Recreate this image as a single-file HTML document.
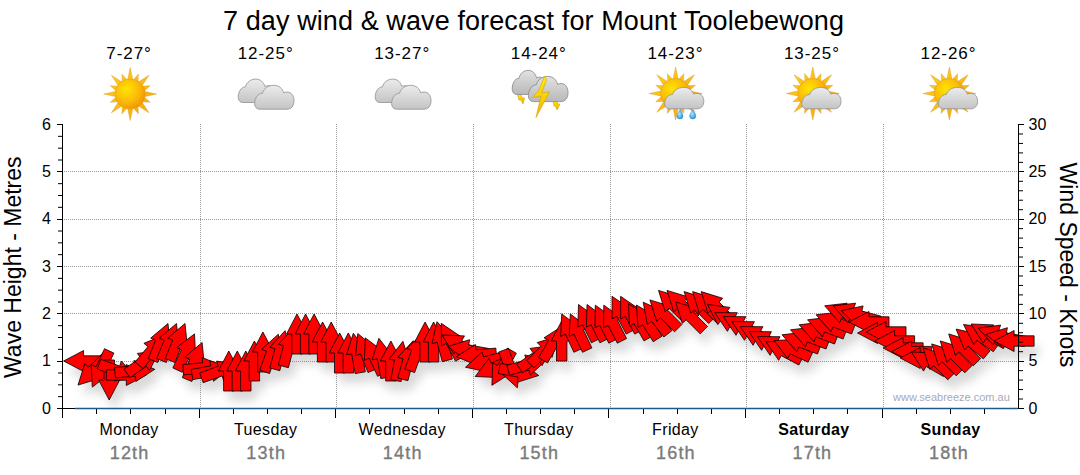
<!DOCTYPE html><html><head><meta charset="utf-8"><style>html,body{margin:0;padding:0;background:#fff;width:1080px;height:475px;overflow:hidden}svg{display:block}</style></head><body>
<svg width="1080" height="475" viewBox="0 0 1080 475" style="font-family:'Liberation Sans', sans-serif">
<defs><filter id="sh" x="-10%" y="-30%" width="120%" height="180%"><feGaussianBlur stdDeviation="5"/></filter></defs>
<text x="223" y="30" font-size="27" textLength="621" lengthAdjust="spacing" fill="#000">7 day wind &amp; wave forecast for Mount Toolebewong</text>
<text x="129.1" y="58.7" font-size="17" letter-spacing="0.95" text-anchor="middle" fill="#000">7-27°</text>
<text x="129.1" y="434.7" font-size="16" letter-spacing="0.35" text-anchor="middle" fill="#000">Monday</text>
<text x="129.6" y="458.7" font-size="18" letter-spacing="1.2" text-anchor="middle" fill="#7a7a7a" stroke="#7a7a7a" stroke-width="0.35">12th</text>
<text x="265.7" y="58.7" font-size="17" letter-spacing="0.95" text-anchor="middle" fill="#000">12-25°</text>
<text x="265.7" y="434.7" font-size="16" letter-spacing="0.35" text-anchor="middle" fill="#000">Tuesday</text>
<text x="266.2" y="458.7" font-size="18" letter-spacing="1.2" text-anchor="middle" fill="#7a7a7a" stroke="#7a7a7a" stroke-width="0.35">13th</text>
<text x="402.2" y="58.7" font-size="17" letter-spacing="0.95" text-anchor="middle" fill="#000">13-27°</text>
<text x="402.2" y="434.7" font-size="16" letter-spacing="0.35" text-anchor="middle" fill="#000">Wednesday</text>
<text x="402.7" y="458.7" font-size="18" letter-spacing="1.2" text-anchor="middle" fill="#7a7a7a" stroke="#7a7a7a" stroke-width="0.35">14th</text>
<text x="538.8" y="58.7" font-size="17" letter-spacing="0.95" text-anchor="middle" fill="#000">14-24°</text>
<text x="538.8" y="434.7" font-size="16" letter-spacing="0.35" text-anchor="middle" fill="#000">Thursday</text>
<text x="539.3" y="458.7" font-size="18" letter-spacing="1.2" text-anchor="middle" fill="#7a7a7a" stroke="#7a7a7a" stroke-width="0.35">15th</text>
<text x="675.4" y="58.7" font-size="17" letter-spacing="0.95" text-anchor="middle" fill="#000">14-23°</text>
<text x="675.4" y="434.7" font-size="16" letter-spacing="0.35" text-anchor="middle" fill="#000">Friday</text>
<text x="675.9" y="458.7" font-size="18" letter-spacing="1.2" text-anchor="middle" fill="#7a7a7a" stroke="#7a7a7a" stroke-width="0.35">16th</text>
<text x="811.9" y="58.7" font-size="17" letter-spacing="0.95" text-anchor="middle" fill="#000">13-25°</text>
<text x="813.9" y="434.7" font-size="16" font-weight="bold" letter-spacing="0.35" text-anchor="middle" fill="#000">Saturday</text>
<text x="812.4" y="458.7" font-size="18" letter-spacing="1.2" text-anchor="middle" fill="#7a7a7a" stroke="#7a7a7a" stroke-width="0.35">17th</text>
<text x="948.5" y="58.7" font-size="17" letter-spacing="0.95" text-anchor="middle" fill="#000">12-26°</text>
<text x="950.5" y="434.7" font-size="16" font-weight="bold" letter-spacing="0.35" text-anchor="middle" fill="#000">Sunday</text>
<text x="949.0" y="458.7" font-size="18" letter-spacing="1.2" text-anchor="middle" fill="#7a7a7a" stroke="#7a7a7a" stroke-width="0.35">18th</text>
<path d="M62 361.5H1018 M62 313.5H1018 M62 266.5H1018 M62 219.5H1018 M62 171.5H1018 M200.5 124V408 M336.5 124V408 M473.5 124V408 M610.5 124V408 M746.5 124V408 M883.5 124V408" stroke="#9a9a9a" stroke-width="1" stroke-dasharray="1 1" fill="none"/>
<text x="893" y="400.6" font-size="11" fill="#a8a8b8">www.seabreeze.com.au</text>
<g filter="url(#sh)" opacity="0.3"><path transform="translate(5 10)" fill="#808080" d="M63.6 361.0 L83.6 350.5 L83.6 355.8 L103.6 355.8 L103.6 366.2 L83.6 366.2 L83.6 371.5Z M78.0 385.1 L84.8 363.6 L88.5 367.3 L102.6 353.2 L110.0 360.5 L95.9 374.7 L99.6 378.4Z M92.3 387.1 L91.2 364.6 L96.0 366.8 L104.5 348.7 L113.9 353.1 L105.4 371.2 L110.2 373.4Z M109.2 400.0 L98.7 380.0 L104.0 380.0 L104.0 360.0 L114.4 360.0 L114.4 380.0 L119.7 380.0Z M136.6 377.8 L114.2 380.9 L116.0 375.9 L97.2 369.0 L100.8 359.3 L119.6 366.1 L121.4 361.1Z M146.3 375.0 L126.3 385.5 L126.3 380.2 L106.3 380.2 L106.3 369.8 L126.3 369.8 L126.3 364.5Z M154.8 369.3 L135.8 381.5 L135.3 376.2 L115.4 377.9 L114.5 367.6 L134.4 365.8 L133.9 360.5Z M159.8 350.5 L149.4 370.6 L146.4 366.3 L130.0 377.7 L124.0 369.2 L140.4 357.7 L137.4 353.4Z M164.8 334.7 L160.0 356.7 L155.9 353.3 L143.1 368.7 L135.1 362.0 L147.9 346.7 L143.9 343.3Z M168.0 323.5 L170.2 345.9 L165.3 343.9 L157.8 362.5 L148.2 358.6 L155.6 340.1 L150.7 338.1Z M176.5 323.5 L178.7 345.9 L173.8 343.9 L166.3 362.5 L156.7 358.6 L164.2 340.1 L159.3 338.1Z M185.0 323.5 L187.3 345.9 L182.4 343.9 L174.9 362.5 L165.2 358.6 L172.7 340.1 L167.8 338.1Z M194.5 333.9 L195.6 356.4 L190.8 354.2 L182.3 372.3 L172.9 367.9 L181.4 349.8 L176.6 347.6Z M202.1 342.5 L204.3 364.9 L199.4 362.9 L191.9 381.5 L182.3 377.6 L189.8 359.1 L184.9 357.1Z M223.1 366.3 L204.1 378.5 L203.6 373.2 L183.7 374.9 L182.8 364.6 L202.7 362.8 L202.2 357.5Z M231.4 367.5 L213.5 381.3 L212.6 376.1 L192.9 379.6 L191.1 369.4 L210.8 365.9 L209.9 360.7Z M239.0 364.2 L223.8 380.9 L222.0 375.9 L203.2 382.7 L199.6 373.0 L218.4 366.1 L216.6 361.1Z M228.8 351.0 L239.3 371.0 L234.0 371.0 L234.0 391.0 L223.6 391.0 L223.6 371.0 L218.3 371.0Z M237.3 351.0 L247.8 371.0 L242.5 371.0 L242.5 391.0 L232.1 391.0 L232.1 371.0 L226.8 371.0Z M245.8 351.0 L256.3 371.0 L251.0 371.0 L251.0 391.0 L240.6 391.0 L240.6 371.0 L235.3 371.0Z M254.4 341.0 L264.9 361.0 L259.6 361.0 L259.6 381.0 L249.2 381.0 L249.2 361.0 L243.9 361.0Z M262.9 332.0 L273.4 352.0 L268.1 352.0 L268.1 372.0 L257.7 372.0 L257.7 352.0 L252.4 352.0Z M278.3 334.2 L281.3 356.6 L276.3 354.8 L269.5 373.6 L259.7 370.0 L266.5 351.2 L261.6 349.4Z M285.1 330.7 L290.1 352.7 L285.0 351.3 L279.8 370.7 L269.8 368.0 L274.9 348.7 L269.8 347.3Z M293.7 327.7 L298.6 349.7 L293.5 348.3 L288.4 367.7 L278.3 365.0 L283.5 345.7 L278.4 344.3Z M297.0 314.0 L307.5 334.0 L302.2 334.0 L302.2 354.0 L291.8 354.0 L291.8 334.0 L286.5 334.0Z M305.6 314.0 L316.1 334.0 L310.8 334.0 L310.8 354.0 L300.4 354.0 L300.4 334.0 L295.1 334.0Z M314.1 314.0 L324.6 334.0 L319.3 334.0 L319.3 354.0 L308.9 354.0 L308.9 334.0 L303.6 334.0Z M322.6 322.0 L333.1 342.0 L327.8 342.0 L327.8 362.0 L317.4 362.0 L317.4 342.0 L312.1 342.0Z M331.2 322.0 L341.7 342.0 L336.4 342.0 L336.4 362.0 L326.0 362.0 L326.0 342.0 L320.7 342.0Z M339.7 333.0 L350.2 353.0 L344.9 353.0 L344.9 373.0 L334.5 373.0 L334.5 353.0 L329.2 353.0Z M348.3 333.0 L358.8 353.0 L353.5 353.0 L353.5 373.0 L343.1 373.0 L343.1 353.0 L337.8 353.0Z M353.3 333.3 L367.1 351.2 L361.9 352.1 L365.4 371.8 L355.1 373.6 L351.7 353.9 L346.5 354.8Z M357.8 333.5 L375.1 348.1 L370.1 350.1 L377.6 368.6 L368.0 372.5 L360.5 353.9 L355.6 355.9Z M365.4 337.9 L383.4 351.6 L378.6 353.8 L387.0 371.9 L377.6 376.3 L369.2 358.2 L364.3 360.4Z M378.9 338.3 L392.7 356.2 L387.5 357.1 L391.0 376.8 L380.8 378.6 L377.3 358.9 L372.1 359.8Z M390.9 341.0 L401.4 361.0 L396.1 361.0 L396.1 381.0 L385.7 381.0 L385.7 361.0 L380.4 361.0Z M402.9 341.3 L409.8 362.8 L404.6 361.9 L401.1 381.6 L390.9 379.8 L394.4 360.1 L389.1 359.2Z M413.2 340.7 L418.2 362.7 L413.0 361.3 L407.9 380.7 L397.8 378.0 L403.0 358.7 L397.9 357.3Z M423.4 333.2 L426.4 355.6 L421.4 353.8 L414.6 372.6 L404.8 369.0 L411.7 350.2 L406.7 348.4Z M425.1 322.0 L435.6 342.0 L430.3 342.0 L430.3 362.0 L419.9 362.0 L419.9 342.0 L414.6 342.0Z M433.6 322.0 L444.1 342.0 L438.8 342.0 L438.8 362.0 L428.4 362.0 L428.4 342.0 L423.1 342.0Z M437.0 321.7 L452.3 338.3 L447.2 339.7 L452.4 359.0 L442.3 361.7 L437.1 342.3 L432.0 343.7Z M441.3 323.3 L460.0 336.1 L455.3 338.6 L464.7 356.2 L455.5 361.1 L446.1 343.4 L441.4 345.9Z M441.9 335.0 L464.5 335.9 L461.8 340.5 L479.1 350.5 L473.9 359.5 L456.6 349.5 L454.0 354.1Z M448.1 346.5 L469.6 339.7 L468.7 344.9 L488.4 348.4 L486.6 358.6 L466.9 355.1 L465.9 360.3Z M456.4 356.7 L475.4 344.5 L475.8 349.8 L495.8 348.1 L496.7 358.4 L476.7 360.2 L477.2 365.5Z M465.5 367.2 L482.1 351.9 L483.5 357.0 L502.8 351.8 L505.5 361.8 L486.2 367.0 L487.5 372.1Z M475.2 376.5 L488.9 358.5 L491.2 363.3 L509.3 354.8 L513.7 364.3 L495.6 372.7 L497.8 377.5Z M491.9 385.3 L492.8 362.8 L497.4 365.4 L507.4 348.1 L516.4 353.3 L506.4 370.6 L511.0 373.2Z M517.3 387.8 L500.6 372.6 L505.6 370.8 L498.7 352.0 L508.5 348.4 L515.3 367.2 L520.3 365.4Z M538.7 375.5 L517.2 382.3 L518.1 377.1 L498.4 373.6 L500.2 363.4 L519.9 366.9 L520.8 361.7Z M546.8 359.8 L530.2 375.1 L528.9 370.0 L509.5 375.2 L506.8 365.2 L526.2 360.0 L524.8 354.9Z M552.4 345.5 L542.1 365.6 L539.0 361.3 L522.6 372.7 L516.7 364.2 L533.1 352.7 L530.0 348.4Z M558.7 335.9 L552.0 357.4 L548.3 353.7 L534.1 367.8 L526.8 360.5 L540.9 346.3 L537.2 342.6Z M563.1 325.7 L562.2 348.2 L557.6 345.6 L547.6 362.9 L538.6 357.7 L548.6 340.4 L544.0 337.8Z M561.7 321.0 L572.2 341.0 L566.9 341.0 L566.9 361.0 L556.5 361.0 L556.5 341.0 L551.2 341.0Z M561.7 313.9 L579.7 327.6 L574.9 329.8 L583.4 347.9 L573.9 352.3 L565.5 334.2 L560.7 336.4Z M570.3 313.9 L588.2 327.6 L583.4 329.8 L591.9 347.9 L582.5 352.3 L574.0 334.2 L569.2 336.4Z M578.5 304.5 L596.7 317.9 L591.9 320.2 L600.7 338.2 L591.4 342.8 L582.6 324.8 L577.8 327.1Z M587.0 304.5 L605.2 317.9 L600.5 320.2 L609.2 338.2 L599.9 342.8 L591.1 324.8 L586.4 327.1Z M595.3 305.2 L613.7 318.2 L609.0 320.6 L618.0 338.5 L608.8 343.2 L599.7 325.4 L595.0 327.8Z M603.8 305.2 L622.2 318.2 L617.5 320.6 L626.6 338.5 L617.3 343.2 L608.2 325.4 L603.5 327.8Z M612.0 296.3 L630.7 309.1 L626.0 311.6 L635.4 329.2 L626.2 334.1 L616.8 316.4 L612.1 318.9Z M620.6 296.3 L639.2 309.1 L634.5 311.6 L643.9 329.2 L634.7 334.1 L625.4 316.4 L620.7 318.9Z M628.5 303.7 L647.6 315.8 L643.0 318.4 L653.0 335.7 L644.0 340.9 L634.0 323.6 L629.4 326.2Z M636.4 305.0 L655.9 316.4 L651.4 319.2 L662.0 336.2 L653.2 341.7 L642.6 324.8 L638.1 327.6Z M643.2 302.2 L663.8 311.5 L659.6 314.8 L672.0 330.6 L663.8 337.0 L651.5 321.2 L647.3 324.5Z M649.9 299.9 L671.5 306.6 L667.8 310.3 L681.9 324.5 L674.6 331.8 L660.4 317.7 L656.7 321.4Z M658.5 290.4 L680.0 297.1 L676.3 300.8 L690.4 315.0 L683.1 322.3 L668.9 308.2 L665.2 311.9Z M667.0 290.4 L688.6 297.1 L684.8 300.8 L699.0 315.0 L691.6 322.3 L677.5 308.2 L673.7 311.9Z M675.6 301.9 L697.1 308.6 L693.4 312.3 L707.5 326.5 L700.2 333.8 L686.0 319.7 L682.3 323.4Z M684.1 291.6 L705.7 298.3 L701.9 302.0 L716.1 316.2 L708.7 323.5 L694.6 309.4 L690.8 313.1Z M692.6 291.6 L714.2 298.3 L710.4 302.0 L724.6 316.2 L717.2 323.5 L703.1 309.4 L699.3 313.1Z M701.2 291.6 L722.7 298.3 L719.0 302.0 L733.1 316.2 L725.8 323.5 L711.6 309.4 L707.9 313.1Z M707.5 304.5 L729.9 307.4 L726.8 311.7 L743.2 323.2 L737.2 331.7 L720.9 320.3 L717.8 324.6Z M714.7 312.6 L737.3 312.7 L734.8 317.4 L752.5 326.8 L747.6 336.0 L729.9 326.6 L727.4 331.3Z M723.3 316.6 L745.8 316.7 L743.4 321.4 L761.0 330.8 L756.1 340.0 L738.5 330.6 L736.0 335.3Z M731.8 321.6 L754.4 321.7 L751.9 326.4 L769.5 335.8 L764.7 345.0 L747.0 335.6 L744.5 340.3Z M740.3 326.6 L762.9 326.7 L760.4 331.4 L778.1 340.8 L773.2 350.0 L755.5 340.6 L753.1 345.3Z M748.9 331.6 L771.4 331.7 L769.0 336.4 L786.6 345.8 L781.7 355.0 L764.1 345.6 L761.6 350.3Z M757.4 336.6 L780.0 336.7 L777.5 341.4 L795.2 350.8 L790.3 360.0 L772.6 350.6 L770.1 355.3Z M765.9 341.6 L788.5 341.7 L786.0 346.4 L803.7 355.8 L798.8 365.0 L781.2 355.6 L778.7 360.3Z M774.0 340.5 L796.6 339.5 L794.3 344.3 L812.5 352.7 L808.1 362.2 L789.9 353.7 L787.7 358.5Z M782.0 334.8 L804.4 332.2 L802.5 337.1 L821.2 344.3 L817.5 354.0 L798.8 346.9 L796.9 351.8Z M790.5 329.8 L813.0 327.2 L811.1 332.1 L829.7 339.3 L826.0 349.0 L807.3 341.9 L805.4 346.8Z M799.1 324.8 L821.5 322.2 L819.6 327.1 L838.3 334.3 L834.5 344.0 L815.9 336.9 L814.0 341.8Z M807.6 319.8 L830.0 317.2 L828.1 322.1 L846.8 329.3 L843.1 339.0 L824.4 331.9 L822.5 336.8Z M816.1 314.8 L838.6 312.2 L836.7 317.1 L855.3 324.3 L851.6 334.0 L832.9 326.9 L831.0 331.8Z M824.7 305.8 L847.1 303.2 L845.2 308.1 L863.9 315.3 L860.2 325.0 L841.5 317.9 L839.6 322.8Z M833.2 305.8 L855.6 303.2 L853.7 308.1 L872.4 315.3 L868.7 325.0 L850.0 317.9 L848.1 322.8Z M841.1 310.8 L863.1 305.9 L861.8 311.0 L881.1 316.2 L878.4 326.2 L859.1 321.0 L857.7 326.1Z M849.0 322.0 L869.0 311.5 L869.0 316.8 L889.0 316.8 L889.0 327.2 L869.0 327.2 L869.0 332.5Z M857.5 333.0 L877.5 322.5 L877.5 327.8 L897.5 327.8 L897.5 338.2 L877.5 338.2 L877.5 343.5Z M866.0 332.0 L886.0 321.5 L886.0 326.8 L906.0 326.8 L906.0 337.2 L886.0 337.2 L886.0 342.5Z M874.6 341.0 L894.6 330.5 L894.6 335.8 L914.6 335.8 L914.6 346.2 L894.6 346.2 L894.6 351.5Z M883.1 348.0 L903.1 337.5 L903.1 342.8 L923.1 342.8 L923.1 353.2 L903.1 353.2 L903.1 358.5Z M891.6 351.6 L911.6 341.1 L911.6 346.4 L931.6 346.4 L931.6 356.8 L911.6 356.8 L911.6 362.1Z M900.2 358.0 L920.2 347.5 L920.2 352.8 L940.2 352.8 L940.2 363.2 L920.2 363.2 L920.2 368.5Z M911.4 352.0 L934.0 352.9 L931.3 357.5 L948.6 367.5 L943.4 376.5 L926.1 366.5 L923.5 371.1Z M923.1 347.9 L944.7 354.6 L940.9 358.3 L955.1 372.5 L947.7 379.8 L933.6 365.7 L929.8 369.4Z M931.6 343.9 L953.2 350.6 L949.5 354.3 L963.6 368.5 L956.2 375.8 L942.1 361.7 L938.4 365.4Z M940.2 340.9 L961.7 347.6 L958.0 351.3 L972.1 365.5 L964.8 372.8 L950.6 358.7 L946.9 362.4Z M948.7 333.9 L970.3 340.6 L966.5 344.3 L980.7 358.5 L973.3 365.8 L959.2 351.7 L955.4 355.4Z M956.1 329.1 L978.1 334.0 L974.7 338.0 L990.0 350.9 L983.4 358.8 L968.0 346.0 L964.6 350.0Z M963.5 324.5 L985.9 327.4 L982.9 331.7 L999.3 343.2 L993.3 351.7 L976.9 340.3 L973.9 344.6Z M971.1 324.0 L993.7 324.9 L991.1 329.5 L1008.4 339.5 L1003.2 348.5 L985.9 338.5 L983.2 343.1Z M978.2 328.2 L1000.6 325.1 L998.8 330.1 L1017.6 337.0 L1014.0 346.7 L995.2 339.9 L993.4 344.9Z M985.8 334.5 L1007.4 327.7 L1006.4 332.9 L1026.1 336.4 L1024.3 346.6 L1004.6 343.1 L1003.7 348.3Z M994.1 341.0 L1014.1 330.5 L1014.1 335.8 L1034.1 335.8 L1034.1 346.2 L1014.1 346.2 L1014.1 351.5Z"/></g>
<g fill="#ff0000" stroke="#000" stroke-width="0.8" stroke-linejoin="miter"><path d="M63.6 361.0 L83.6 350.5 L83.6 355.8 L103.6 355.8 L103.6 366.2 L83.6 366.2 L83.6 371.5Z"/><path d="M78.0 385.1 L84.8 363.6 L88.5 367.3 L102.6 353.2 L110.0 360.5 L95.9 374.7 L99.6 378.4Z"/><path d="M92.3 387.1 L91.2 364.6 L96.0 366.8 L104.5 348.7 L113.9 353.1 L105.4 371.2 L110.2 373.4Z"/><path d="M109.2 400.0 L98.7 380.0 L104.0 380.0 L104.0 360.0 L114.4 360.0 L114.4 380.0 L119.7 380.0Z"/><path d="M136.6 377.8 L114.2 380.9 L116.0 375.9 L97.2 369.0 L100.8 359.3 L119.6 366.1 L121.4 361.1Z"/><path d="M146.3 375.0 L126.3 385.5 L126.3 380.2 L106.3 380.2 L106.3 369.8 L126.3 369.8 L126.3 364.5Z"/><path d="M154.8 369.3 L135.8 381.5 L135.3 376.2 L115.4 377.9 L114.5 367.6 L134.4 365.8 L133.9 360.5Z"/><path d="M159.8 350.5 L149.4 370.6 L146.4 366.3 L130.0 377.7 L124.0 369.2 L140.4 357.7 L137.4 353.4Z"/><path d="M164.8 334.7 L160.0 356.7 L155.9 353.3 L143.1 368.7 L135.1 362.0 L147.9 346.7 L143.9 343.3Z"/><path d="M168.0 323.5 L170.2 345.9 L165.3 343.9 L157.8 362.5 L148.2 358.6 L155.6 340.1 L150.7 338.1Z"/><path d="M176.5 323.5 L178.7 345.9 L173.8 343.9 L166.3 362.5 L156.7 358.6 L164.2 340.1 L159.3 338.1Z"/><path d="M185.0 323.5 L187.3 345.9 L182.4 343.9 L174.9 362.5 L165.2 358.6 L172.7 340.1 L167.8 338.1Z"/><path d="M194.5 333.9 L195.6 356.4 L190.8 354.2 L182.3 372.3 L172.9 367.9 L181.4 349.8 L176.6 347.6Z"/><path d="M202.1 342.5 L204.3 364.9 L199.4 362.9 L191.9 381.5 L182.3 377.6 L189.8 359.1 L184.9 357.1Z"/><path d="M223.1 366.3 L204.1 378.5 L203.6 373.2 L183.7 374.9 L182.8 364.6 L202.7 362.8 L202.2 357.5Z"/><path d="M231.4 367.5 L213.5 381.3 L212.6 376.1 L192.9 379.6 L191.1 369.4 L210.8 365.9 L209.9 360.7Z"/><path d="M239.0 364.2 L223.8 380.9 L222.0 375.9 L203.2 382.7 L199.6 373.0 L218.4 366.1 L216.6 361.1Z"/><path d="M228.8 351.0 L239.3 371.0 L234.0 371.0 L234.0 391.0 L223.6 391.0 L223.6 371.0 L218.3 371.0Z"/><path d="M237.3 351.0 L247.8 371.0 L242.5 371.0 L242.5 391.0 L232.1 391.0 L232.1 371.0 L226.8 371.0Z"/><path d="M245.8 351.0 L256.3 371.0 L251.0 371.0 L251.0 391.0 L240.6 391.0 L240.6 371.0 L235.3 371.0Z"/><path d="M254.4 341.0 L264.9 361.0 L259.6 361.0 L259.6 381.0 L249.2 381.0 L249.2 361.0 L243.9 361.0Z"/><path d="M262.9 332.0 L273.4 352.0 L268.1 352.0 L268.1 372.0 L257.7 372.0 L257.7 352.0 L252.4 352.0Z"/><path d="M278.3 334.2 L281.3 356.6 L276.3 354.8 L269.5 373.6 L259.7 370.0 L266.5 351.2 L261.6 349.4Z"/><path d="M285.1 330.7 L290.1 352.7 L285.0 351.3 L279.8 370.7 L269.8 368.0 L274.9 348.7 L269.8 347.3Z"/><path d="M293.7 327.7 L298.6 349.7 L293.5 348.3 L288.4 367.7 L278.3 365.0 L283.5 345.7 L278.4 344.3Z"/><path d="M297.0 314.0 L307.5 334.0 L302.2 334.0 L302.2 354.0 L291.8 354.0 L291.8 334.0 L286.5 334.0Z"/><path d="M305.6 314.0 L316.1 334.0 L310.8 334.0 L310.8 354.0 L300.4 354.0 L300.4 334.0 L295.1 334.0Z"/><path d="M314.1 314.0 L324.6 334.0 L319.3 334.0 L319.3 354.0 L308.9 354.0 L308.9 334.0 L303.6 334.0Z"/><path d="M322.6 322.0 L333.1 342.0 L327.8 342.0 L327.8 362.0 L317.4 362.0 L317.4 342.0 L312.1 342.0Z"/><path d="M331.2 322.0 L341.7 342.0 L336.4 342.0 L336.4 362.0 L326.0 362.0 L326.0 342.0 L320.7 342.0Z"/><path d="M339.7 333.0 L350.2 353.0 L344.9 353.0 L344.9 373.0 L334.5 373.0 L334.5 353.0 L329.2 353.0Z"/><path d="M348.3 333.0 L358.8 353.0 L353.5 353.0 L353.5 373.0 L343.1 373.0 L343.1 353.0 L337.8 353.0Z"/><path d="M353.3 333.3 L367.1 351.2 L361.9 352.1 L365.4 371.8 L355.1 373.6 L351.7 353.9 L346.5 354.8Z"/><path d="M357.8 333.5 L375.1 348.1 L370.1 350.1 L377.6 368.6 L368.0 372.5 L360.5 353.9 L355.6 355.9Z"/><path d="M365.4 337.9 L383.4 351.6 L378.6 353.8 L387.0 371.9 L377.6 376.3 L369.2 358.2 L364.3 360.4Z"/><path d="M378.9 338.3 L392.7 356.2 L387.5 357.1 L391.0 376.8 L380.8 378.6 L377.3 358.9 L372.1 359.8Z"/><path d="M390.9 341.0 L401.4 361.0 L396.1 361.0 L396.1 381.0 L385.7 381.0 L385.7 361.0 L380.4 361.0Z"/><path d="M402.9 341.3 L409.8 362.8 L404.6 361.9 L401.1 381.6 L390.9 379.8 L394.4 360.1 L389.1 359.2Z"/><path d="M413.2 340.7 L418.2 362.7 L413.0 361.3 L407.9 380.7 L397.8 378.0 L403.0 358.7 L397.9 357.3Z"/><path d="M423.4 333.2 L426.4 355.6 L421.4 353.8 L414.6 372.6 L404.8 369.0 L411.7 350.2 L406.7 348.4Z"/><path d="M425.1 322.0 L435.6 342.0 L430.3 342.0 L430.3 362.0 L419.9 362.0 L419.9 342.0 L414.6 342.0Z"/><path d="M433.6 322.0 L444.1 342.0 L438.8 342.0 L438.8 362.0 L428.4 362.0 L428.4 342.0 L423.1 342.0Z"/><path d="M437.0 321.7 L452.3 338.3 L447.2 339.7 L452.4 359.0 L442.3 361.7 L437.1 342.3 L432.0 343.7Z"/><path d="M441.3 323.3 L460.0 336.1 L455.3 338.6 L464.7 356.2 L455.5 361.1 L446.1 343.4 L441.4 345.9Z"/><path d="M441.9 335.0 L464.5 335.9 L461.8 340.5 L479.1 350.5 L473.9 359.5 L456.6 349.5 L454.0 354.1Z"/><path d="M448.1 346.5 L469.6 339.7 L468.7 344.9 L488.4 348.4 L486.6 358.6 L466.9 355.1 L465.9 360.3Z"/><path d="M456.4 356.7 L475.4 344.5 L475.8 349.8 L495.8 348.1 L496.7 358.4 L476.7 360.2 L477.2 365.5Z"/><path d="M465.5 367.2 L482.1 351.9 L483.5 357.0 L502.8 351.8 L505.5 361.8 L486.2 367.0 L487.5 372.1Z"/><path d="M475.2 376.5 L488.9 358.5 L491.2 363.3 L509.3 354.8 L513.7 364.3 L495.6 372.7 L497.8 377.5Z"/><path d="M491.9 385.3 L492.8 362.8 L497.4 365.4 L507.4 348.1 L516.4 353.3 L506.4 370.6 L511.0 373.2Z"/><path d="M517.3 387.8 L500.6 372.6 L505.6 370.8 L498.7 352.0 L508.5 348.4 L515.3 367.2 L520.3 365.4Z"/><path d="M538.7 375.5 L517.2 382.3 L518.1 377.1 L498.4 373.6 L500.2 363.4 L519.9 366.9 L520.8 361.7Z"/><path d="M546.8 359.8 L530.2 375.1 L528.9 370.0 L509.5 375.2 L506.8 365.2 L526.2 360.0 L524.8 354.9Z"/><path d="M552.4 345.5 L542.1 365.6 L539.0 361.3 L522.6 372.7 L516.7 364.2 L533.1 352.7 L530.0 348.4Z"/><path d="M558.7 335.9 L552.0 357.4 L548.3 353.7 L534.1 367.8 L526.8 360.5 L540.9 346.3 L537.2 342.6Z"/><path d="M563.1 325.7 L562.2 348.2 L557.6 345.6 L547.6 362.9 L538.6 357.7 L548.6 340.4 L544.0 337.8Z"/><path d="M561.7 321.0 L572.2 341.0 L566.9 341.0 L566.9 361.0 L556.5 361.0 L556.5 341.0 L551.2 341.0Z"/><path d="M561.7 313.9 L579.7 327.6 L574.9 329.8 L583.4 347.9 L573.9 352.3 L565.5 334.2 L560.7 336.4Z"/><path d="M570.3 313.9 L588.2 327.6 L583.4 329.8 L591.9 347.9 L582.5 352.3 L574.0 334.2 L569.2 336.4Z"/><path d="M578.5 304.5 L596.7 317.9 L591.9 320.2 L600.7 338.2 L591.4 342.8 L582.6 324.8 L577.8 327.1Z"/><path d="M587.0 304.5 L605.2 317.9 L600.5 320.2 L609.2 338.2 L599.9 342.8 L591.1 324.8 L586.4 327.1Z"/><path d="M595.3 305.2 L613.7 318.2 L609.0 320.6 L618.0 338.5 L608.8 343.2 L599.7 325.4 L595.0 327.8Z"/><path d="M603.8 305.2 L622.2 318.2 L617.5 320.6 L626.6 338.5 L617.3 343.2 L608.2 325.4 L603.5 327.8Z"/><path d="M612.0 296.3 L630.7 309.1 L626.0 311.6 L635.4 329.2 L626.2 334.1 L616.8 316.4 L612.1 318.9Z"/><path d="M620.6 296.3 L639.2 309.1 L634.5 311.6 L643.9 329.2 L634.7 334.1 L625.4 316.4 L620.7 318.9Z"/><path d="M628.5 303.7 L647.6 315.8 L643.0 318.4 L653.0 335.7 L644.0 340.9 L634.0 323.6 L629.4 326.2Z"/><path d="M636.4 305.0 L655.9 316.4 L651.4 319.2 L662.0 336.2 L653.2 341.7 L642.6 324.8 L638.1 327.6Z"/><path d="M643.2 302.2 L663.8 311.5 L659.6 314.8 L672.0 330.6 L663.8 337.0 L651.5 321.2 L647.3 324.5Z"/><path d="M649.9 299.9 L671.5 306.6 L667.8 310.3 L681.9 324.5 L674.6 331.8 L660.4 317.7 L656.7 321.4Z"/><path d="M658.5 290.4 L680.0 297.1 L676.3 300.8 L690.4 315.0 L683.1 322.3 L668.9 308.2 L665.2 311.9Z"/><path d="M667.0 290.4 L688.6 297.1 L684.8 300.8 L699.0 315.0 L691.6 322.3 L677.5 308.2 L673.7 311.9Z"/><path d="M675.6 301.9 L697.1 308.6 L693.4 312.3 L707.5 326.5 L700.2 333.8 L686.0 319.7 L682.3 323.4Z"/><path d="M684.1 291.6 L705.7 298.3 L701.9 302.0 L716.1 316.2 L708.7 323.5 L694.6 309.4 L690.8 313.1Z"/><path d="M692.6 291.6 L714.2 298.3 L710.4 302.0 L724.6 316.2 L717.2 323.5 L703.1 309.4 L699.3 313.1Z"/><path d="M701.2 291.6 L722.7 298.3 L719.0 302.0 L733.1 316.2 L725.8 323.5 L711.6 309.4 L707.9 313.1Z"/><path d="M707.5 304.5 L729.9 307.4 L726.8 311.7 L743.2 323.2 L737.2 331.7 L720.9 320.3 L717.8 324.6Z"/><path d="M714.7 312.6 L737.3 312.7 L734.8 317.4 L752.5 326.8 L747.6 336.0 L729.9 326.6 L727.4 331.3Z"/><path d="M723.3 316.6 L745.8 316.7 L743.4 321.4 L761.0 330.8 L756.1 340.0 L738.5 330.6 L736.0 335.3Z"/><path d="M731.8 321.6 L754.4 321.7 L751.9 326.4 L769.5 335.8 L764.7 345.0 L747.0 335.6 L744.5 340.3Z"/><path d="M740.3 326.6 L762.9 326.7 L760.4 331.4 L778.1 340.8 L773.2 350.0 L755.5 340.6 L753.1 345.3Z"/><path d="M748.9 331.6 L771.4 331.7 L769.0 336.4 L786.6 345.8 L781.7 355.0 L764.1 345.6 L761.6 350.3Z"/><path d="M757.4 336.6 L780.0 336.7 L777.5 341.4 L795.2 350.8 L790.3 360.0 L772.6 350.6 L770.1 355.3Z"/><path d="M765.9 341.6 L788.5 341.7 L786.0 346.4 L803.7 355.8 L798.8 365.0 L781.2 355.6 L778.7 360.3Z"/><path d="M774.0 340.5 L796.6 339.5 L794.3 344.3 L812.5 352.7 L808.1 362.2 L789.9 353.7 L787.7 358.5Z"/><path d="M782.0 334.8 L804.4 332.2 L802.5 337.1 L821.2 344.3 L817.5 354.0 L798.8 346.9 L796.9 351.8Z"/><path d="M790.5 329.8 L813.0 327.2 L811.1 332.1 L829.7 339.3 L826.0 349.0 L807.3 341.9 L805.4 346.8Z"/><path d="M799.1 324.8 L821.5 322.2 L819.6 327.1 L838.3 334.3 L834.5 344.0 L815.9 336.9 L814.0 341.8Z"/><path d="M807.6 319.8 L830.0 317.2 L828.1 322.1 L846.8 329.3 L843.1 339.0 L824.4 331.9 L822.5 336.8Z"/><path d="M816.1 314.8 L838.6 312.2 L836.7 317.1 L855.3 324.3 L851.6 334.0 L832.9 326.9 L831.0 331.8Z"/><path d="M824.7 305.8 L847.1 303.2 L845.2 308.1 L863.9 315.3 L860.2 325.0 L841.5 317.9 L839.6 322.8Z"/><path d="M833.2 305.8 L855.6 303.2 L853.7 308.1 L872.4 315.3 L868.7 325.0 L850.0 317.9 L848.1 322.8Z"/><path d="M841.1 310.8 L863.1 305.9 L861.8 311.0 L881.1 316.2 L878.4 326.2 L859.1 321.0 L857.7 326.1Z"/><path d="M849.0 322.0 L869.0 311.5 L869.0 316.8 L889.0 316.8 L889.0 327.2 L869.0 327.2 L869.0 332.5Z"/><path d="M857.5 333.0 L877.5 322.5 L877.5 327.8 L897.5 327.8 L897.5 338.2 L877.5 338.2 L877.5 343.5Z"/><path d="M866.0 332.0 L886.0 321.5 L886.0 326.8 L906.0 326.8 L906.0 337.2 L886.0 337.2 L886.0 342.5Z"/><path d="M874.6 341.0 L894.6 330.5 L894.6 335.8 L914.6 335.8 L914.6 346.2 L894.6 346.2 L894.6 351.5Z"/><path d="M883.1 348.0 L903.1 337.5 L903.1 342.8 L923.1 342.8 L923.1 353.2 L903.1 353.2 L903.1 358.5Z"/><path d="M891.6 351.6 L911.6 341.1 L911.6 346.4 L931.6 346.4 L931.6 356.8 L911.6 356.8 L911.6 362.1Z"/><path d="M900.2 358.0 L920.2 347.5 L920.2 352.8 L940.2 352.8 L940.2 363.2 L920.2 363.2 L920.2 368.5Z"/><path d="M911.4 352.0 L934.0 352.9 L931.3 357.5 L948.6 367.5 L943.4 376.5 L926.1 366.5 L923.5 371.1Z"/><path d="M923.1 347.9 L944.7 354.6 L940.9 358.3 L955.1 372.5 L947.7 379.8 L933.6 365.7 L929.8 369.4Z"/><path d="M931.6 343.9 L953.2 350.6 L949.5 354.3 L963.6 368.5 L956.2 375.8 L942.1 361.7 L938.4 365.4Z"/><path d="M940.2 340.9 L961.7 347.6 L958.0 351.3 L972.1 365.5 L964.8 372.8 L950.6 358.7 L946.9 362.4Z"/><path d="M948.7 333.9 L970.3 340.6 L966.5 344.3 L980.7 358.5 L973.3 365.8 L959.2 351.7 L955.4 355.4Z"/><path d="M956.1 329.1 L978.1 334.0 L974.7 338.0 L990.0 350.9 L983.4 358.8 L968.0 346.0 L964.6 350.0Z"/><path d="M963.5 324.5 L985.9 327.4 L982.9 331.7 L999.3 343.2 L993.3 351.7 L976.9 340.3 L973.9 344.6Z"/><path d="M971.1 324.0 L993.7 324.9 L991.1 329.5 L1008.4 339.5 L1003.2 348.5 L985.9 338.5 L983.2 343.1Z"/><path d="M978.2 328.2 L1000.6 325.1 L998.8 330.1 L1017.6 337.0 L1014.0 346.7 L995.2 339.9 L993.4 344.9Z"/><path d="M985.8 334.5 L1007.4 327.7 L1006.4 332.9 L1026.1 336.4 L1024.3 346.6 L1004.6 343.1 L1003.7 348.3Z"/><path d="M994.1 341.0 L1014.1 330.5 L1014.1 335.8 L1034.1 335.8 L1034.1 346.2 L1014.1 346.2 L1014.1 351.5Z"/></g>
<path d="M62.5 124V418 M57 408.5H75 M57 408.5H62 M58 396.67H62 M58 384.83H62 M58 373.00H62 M57 361.5H62 M58 349.33H62 M58 337.50H62 M58 325.67H62 M57 313.5H62 M58 302.00H62 M58 290.17H62 M58 278.33H62 M57 266.5H62 M58 254.67H62 M58 242.83H62 M58 231.00H62 M57 219.5H62 M58 207.33H62 M58 195.50H62 M58 183.67H62 M57 171.5H62 M58 160.00H62 M58 148.17H62 M58 136.33H62 M57 124.5H62 M1018.5 124V408.5 M1018 408.5H1024 M1018 399.03H1023 M1018 389.57H1023 M1018 380.10H1023 M1018 370.63H1023 M1018 361.5H1024 M1018 351.70H1023 M1018 342.23H1023 M1018 332.77H1023 M1018 323.30H1023 M1018 313.5H1024 M1018 304.37H1023 M1018 294.90H1023 M1018 285.43H1023 M1018 275.97H1023 M1018 266.5H1024 M1018 257.03H1023 M1018 247.57H1023 M1018 238.10H1023 M1018 228.63H1023 M1018 219.5H1024 M1018 209.70H1023 M1018 200.23H1023 M1018 190.77H1023 M1018 181.30H1023 M1018 171.5H1024 M1018 162.37H1023 M1018 152.90H1023 M1018 143.43H1023 M1018 133.97H1023 M1018 124.5H1024 M62.5 408V418 M96.5 408V414 M130.5 408V414 M165.5 408V414 M199.5 408V418 M233.5 408V414 M267.5 408V414 M301.5 408V414 M335.5 408V418 M369.5 408V414 M404.5 408V414 M438.5 408V414 M472.5 408V418 M506.5 408V414 M540.5 408V414 M574.5 408V414 M608.5 408V418 M643.5 408V414 M677.5 408V414 M711.5 408V414 M745.5 408V418 M779.5 408V414 M813.5 408V414 M847.5 408V414 M882.5 408V418 M916.5 408V414 M950.5 408V414 M984.5 408V414" stroke="#000" stroke-width="1" fill="none"/>
<path d="M75 408.5H1018" stroke="#1f5a8a" stroke-width="1.6" fill="none"/>
<text x="51" y="413.7" font-size="16" text-anchor="end" fill="#000">0</text>
<text x="51" y="366.4" font-size="16" text-anchor="end" fill="#000">1</text>
<text x="51" y="319.0" font-size="16" text-anchor="end" fill="#000">2</text>
<text x="51" y="271.7" font-size="16" text-anchor="end" fill="#000">3</text>
<text x="51" y="224.4" font-size="16" text-anchor="end" fill="#000">4</text>
<text x="51" y="177.0" font-size="16" text-anchor="end" fill="#000">5</text>
<text x="51" y="129.7" font-size="16" text-anchor="end" fill="#000">6</text>
<text x="1028.5" y="413.7" font-size="16" fill="#000">0</text>
<text x="1028.5" y="366.4" font-size="16" fill="#000">5</text>
<text x="1028.5" y="319.0" font-size="16" fill="#000">10</text>
<text x="1028.5" y="271.7" font-size="16" fill="#000">15</text>
<text x="1028.5" y="224.4" font-size="16" fill="#000">20</text>
<text x="1028.5" y="177.0" font-size="16" fill="#000">25</text>
<text x="1028.5" y="129.7" font-size="16" fill="#000">30</text>
<text transform="translate(20.8 378) rotate(-90)" font-size="23" fill="#000">Wave Height - Metres</text>
<text transform="translate(1059.5 162.6) rotate(90)" font-size="23" fill="#000">Wind Speed - Knots</text>
<defs>
<radialGradient id="sunG" cx="0.38" cy="0.35" r="0.7"><stop offset="0" stop-color="#ffe400"/><stop offset="0.6" stop-color="#fbb90a"/><stop offset="1" stop-color="#f39200"/></radialGradient>
<linearGradient id="rayG" x1="0" y1="0" x2="1" y2="1"><stop offset="0" stop-color="#ffd21c"/><stop offset="1" stop-color="#f6a20e"/></linearGradient>
<linearGradient id="cldG" x1="0" y1="0" x2="0" y2="1"><stop offset="0" stop-color="#ececec"/><stop offset="1" stop-color="#c4c4c4"/></linearGradient>
<linearGradient id="cldG2" x1="0" y1="0" x2="0" y2="1"><stop offset="0" stop-color="#e2e2e2"/><stop offset="1" stop-color="#b8b8b8"/></linearGradient>
<linearGradient id="boltG" x1="0" y1="0" x2="0" y2="1"><stop offset="0" stop-color="#fff000"/><stop offset="1" stop-color="#f4b000"/></linearGradient>
<radialGradient id="dropG" cx="0.4" cy="0.45" r="0.7"><stop offset="0" stop-color="#aee6ff"/><stop offset="1" stop-color="#1a8ad0"/></radialGradient>
</defs>
<polygon points="130.20,67.50 132.93,80.27 138.43,74.14 137.98,82.36 148.94,75.26 141.84,86.22 150.06,85.77 143.93,91.27 156.70,94.00 143.93,96.73 150.06,102.23 141.84,101.78 148.94,112.74 137.98,105.64 138.43,113.86 132.93,107.73 130.20,120.50 127.47,107.73 121.97,113.86 122.42,105.64 111.46,112.74 118.56,101.78 110.34,102.23 116.47,96.73 103.70,94.00 116.47,91.27 110.34,85.77 118.56,86.22 111.46,75.26 122.42,82.36 121.97,74.14 127.47,80.27" fill="url(#rayG)" stroke="#d99a2a" stroke-width="0.6" stroke-opacity="0.7" stroke-linejoin="miter"/>
<circle cx="130.2" cy="94" r="15" fill="url(#sunG)" stroke="#e0981c" stroke-width="0.5"/>
<path d="M 242.70,102.50 C 240.00,102.50 238.20,100.06 238.20,97.14 C 238.20,92.26 240.90,86.90 245.40,86.90 C 246.75,82.02 250.80,79.10 255.75,79.10 C 260.70,79.10 263.85,82.51 264.75,86.41 C 265.65,85.92 267.00,85.73 267.90,85.73 C 271.95,85.73 274.20,89.34 274.20,94.21 C 274.20,99.57 271.50,102.50 267.90,102.50 Z" fill="url(#cldG)" stroke="#999" stroke-width="0.9"/>
<path d="M 259.52,109.20 C 256.57,109.20 254.60,106.71 254.60,103.72 C 254.60,98.74 257.56,93.27 262.48,93.27 C 263.96,88.29 268.39,85.30 273.81,85.30 C 279.23,85.30 282.67,88.79 283.66,92.77 C 284.64,92.27 286.12,92.07 287.11,92.07 C 291.54,92.07 294.00,95.76 294.00,100.74 C 294.00,106.21 291.05,109.20 287.11,109.20 Z" fill="url(#cldG)" stroke="#999" stroke-width="0.9"/>
<path d="M 379.70,102.50 C 377.00,102.50 375.20,100.06 375.20,97.14 C 375.20,92.26 377.90,86.90 382.40,86.90 C 383.75,82.02 387.80,79.10 392.75,79.10 C 397.70,79.10 400.85,82.51 401.75,86.41 C 402.65,85.92 404.00,85.73 404.90,85.73 C 408.95,85.73 411.20,89.34 411.20,94.21 C 411.20,99.57 408.50,102.50 404.90,102.50 Z" fill="url(#cldG)" stroke="#999" stroke-width="0.9"/>
<path d="M 396.53,109.20 C 393.57,109.20 391.60,106.71 391.60,103.72 C 391.60,98.74 394.56,93.27 399.48,93.27 C 400.96,88.29 405.39,85.30 410.81,85.30 C 416.23,85.30 419.67,88.79 420.66,92.77 C 421.64,92.27 423.12,92.07 424.11,92.07 C 428.54,92.07 431.00,95.76 431.00,100.74 C 431.00,106.21 428.05,109.20 424.11,109.20 Z" fill="url(#cldG)" stroke="#999" stroke-width="0.9"/>
<polygon points="517,93 520.5,93 522,98 524.5,98 523,104 521,100 519,100" fill="url(#boltG)" stroke="#d9a000" stroke-width="0.6" stroke-linejoin="round"/>
<polygon points="553,100 557,100 557.5,104 560,104 557,110 555.5,106 554,106" fill="url(#boltG)" stroke="#d9a000" stroke-width="0.6" stroke-linejoin="round"/>
<path d="M 516.33,94.40 C 513.85,94.40 512.20,91.90 512.20,88.90 C 512.20,83.90 514.68,78.40 518.80,78.40 C 520.04,73.40 523.75,70.40 528.29,70.40 C 532.83,70.40 535.71,73.90 536.54,77.90 C 537.36,77.40 538.60,77.20 539.43,77.20 C 543.14,77.20 545.20,80.90 545.20,85.90 C 545.20,91.40 542.73,94.40 539.43,94.40 Z" fill="url(#cldG2)" stroke="#8e8e8e" stroke-width="0.9"/>
<path d="M 533.35,101.60 C 530.38,101.60 528.40,98.98 528.40,95.83 C 528.40,90.58 531.37,84.80 536.32,84.80 C 537.80,79.55 542.26,76.40 547.70,76.40 C 553.15,76.40 556.62,80.08 557.61,84.28 C 558.60,83.75 560.08,83.54 561.07,83.54 C 565.52,83.54 568.00,87.43 568.00,92.68 C 568.00,98.45 565.03,101.60 561.07,101.60 Z" fill="url(#cldG2)" stroke="#8e8e8e" stroke-width="0.9"/>
<polygon points="544.5,76 539,90 532.5,97.5 541,96 536,117.5 549.5,92 541.5,93 546.5,80" fill="url(#boltG)" stroke="#d9a000" stroke-width="0.6" stroke-linejoin="round"/>
<polygon points="675.60,67.00 678.33,79.77 683.83,73.64 683.38,81.86 694.34,74.76 687.24,85.72 695.46,85.27 689.33,90.77 702.10,93.50 689.33,96.23 695.46,101.73 687.24,101.28 694.34,112.24 683.38,105.14 683.83,113.36 678.33,107.23 675.60,120.00 672.87,107.23 667.37,113.36 667.82,105.14 656.86,112.24 663.96,101.28 655.74,101.73 661.87,96.23 649.10,93.50 661.87,90.77 655.74,85.27 663.96,85.72 656.86,74.76 667.82,81.86 667.37,73.64 672.87,79.77" fill="url(#rayG)" stroke="#d99a2a" stroke-width="0.6" stroke-opacity="0.7" stroke-linejoin="miter"/>
<circle cx="675.6" cy="93.5" r="15" fill="url(#sunG)" stroke="#e0981c" stroke-width="0.5"/>
<path d="M 669.50,108.80 C 666.56,108.80 664.60,106.57 664.60,103.90 C 664.60,99.44 667.54,94.53 672.44,94.53 C 673.91,90.08 678.32,87.40 683.71,87.40 C 689.10,87.40 692.53,90.52 693.51,94.09 C 694.49,93.64 695.96,93.46 696.94,93.46 C 701.35,93.46 703.80,96.76 703.80,101.22 C 703.80,106.12 700.86,108.80 696.94,108.80 Z" fill="url(#cldG)" stroke="#999" stroke-width="0.9"/>
<path d="M680.2 109.5 q-3.4 4.6 -3.4 6.4 a3.1 3.1 0 0 0 6.2 0 q0 -1.8 -2.8 -6.4z" fill="url(#dropG)" stroke="#2a7fb8" stroke-width="0.4"/>
<path d="M693.0 109.5 q-3.4 4.6 -3.4 6.4 a3.1 3.1 0 0 0 6.2 0 q0 -1.8 -2.8 -6.4z" fill="url(#dropG)" stroke="#2a7fb8" stroke-width="0.4"/>
<polygon points="812.80,67.00 815.53,79.77 821.03,73.64 820.58,81.86 831.54,74.76 824.44,85.72 832.66,85.27 826.53,90.77 839.30,93.50 826.53,96.23 832.66,101.73 824.44,101.28 831.54,112.24 820.58,105.14 821.03,113.36 815.53,107.23 812.80,120.00 810.07,107.23 804.57,113.36 805.02,105.14 794.06,112.24 801.16,101.28 792.94,101.73 799.07,96.23 786.30,93.50 799.07,90.77 792.94,85.27 801.16,85.72 794.06,74.76 805.02,81.86 804.57,73.64 810.07,79.77" fill="url(#rayG)" stroke="#d99a2a" stroke-width="0.6" stroke-opacity="0.7" stroke-linejoin="miter"/>
<circle cx="812.8" cy="93.5" r="15" fill="url(#sunG)" stroke="#e0981c" stroke-width="0.5"/>
<path d="M 806.70,108.80 C 803.76,108.80 801.80,106.57 801.80,103.90 C 801.80,99.44 804.74,94.53 809.64,94.53 C 811.11,90.08 815.52,87.40 820.91,87.40 C 826.30,87.40 829.73,90.52 830.71,94.09 C 831.69,93.64 833.16,93.46 834.14,93.46 C 838.55,93.46 841.00,96.76 841.00,101.22 C 841.00,106.12 838.06,108.80 834.14,108.80 Z" fill="url(#cldG)" stroke="#999" stroke-width="0.9"/>
<polygon points="949.40,67.00 952.13,79.77 957.63,73.64 957.18,81.86 968.14,74.76 961.04,85.72 969.26,85.27 963.13,90.77 975.90,93.50 963.13,96.23 969.26,101.73 961.04,101.28 968.14,112.24 957.18,105.14 957.63,113.36 952.13,107.23 949.40,120.00 946.67,107.23 941.17,113.36 941.62,105.14 930.66,112.24 937.76,101.28 929.54,101.73 935.67,96.23 922.90,93.50 935.67,90.77 929.54,85.27 937.76,85.72 930.66,74.76 941.62,81.86 941.17,73.64 946.67,79.77" fill="url(#rayG)" stroke="#d99a2a" stroke-width="0.6" stroke-opacity="0.7" stroke-linejoin="miter"/>
<circle cx="949.4" cy="93.5" r="15" fill="url(#sunG)" stroke="#e0981c" stroke-width="0.5"/>
<path d="M 943.30,108.80 C 940.36,108.80 938.40,106.57 938.40,103.90 C 938.40,99.44 941.34,94.53 946.24,94.53 C 947.71,90.08 952.12,87.40 957.51,87.40 C 962.90,87.40 966.33,90.52 967.31,94.09 C 968.29,93.64 969.76,93.46 970.74,93.46 C 975.15,93.46 977.60,96.76 977.60,101.22 C 977.60,106.12 974.66,108.80 970.74,108.80 Z" fill="url(#cldG)" stroke="#999" stroke-width="0.9"/>
</svg></body></html>
